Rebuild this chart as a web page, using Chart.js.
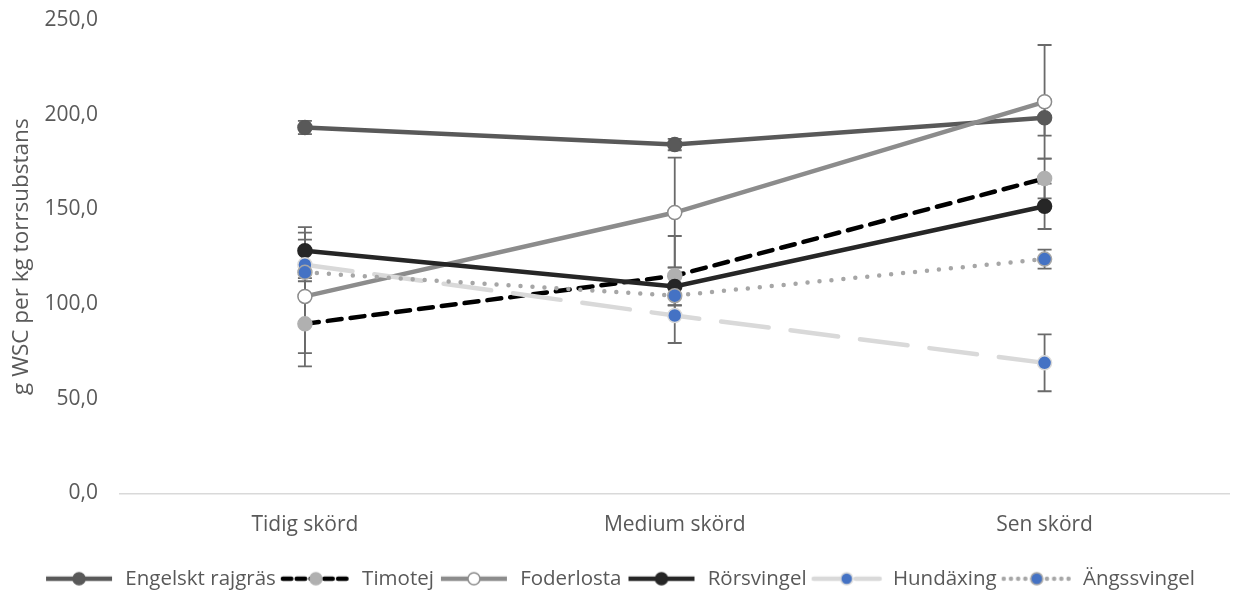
<!DOCTYPE html>
<html>
<head>
<meta charset="utf-8">
<script src="https://cdn.jsdelivr.net/npm/chart.js@4/dist/chart.umd.min.js"></script>
<style>
  html, body { margin: 0; padding: 0; background: #fff; }
  #wrap { width: 1238px; height: 591px; }
</style>
</head>
<body>
<div id="wrap"><canvas id="wsc"></canvas></div>
<script>
// harvest times
const categories = ['Tidig skörd', 'Medium skörd', 'Sen skörd'];

// g WSC per kg dry matter
const engelskt = [193.2, 184.2, 198.4];
const timotej = [89.5, 114.9, 166.3];
const foderlosta = [104.0, 148.3, 206.8];
const rorsvingel = [128.1, 109.2, 151.6];
const hundaxing = [120.7, 93.9, 68.9];
const angssvingel = [116.7, 104.4, 123.7];

// +/- error for each point
const errEngelskt = [3.5, 3, 9.5];
const errTimotej = [22.5, 21, 10.5];
const errFoderlosta = [30, 29, 30];
const errRorsvingel = [12.5, 10, 12];
const errHundaxing = [17, 14.5, 15];
const errAngssvingel = [3, 5, 5];

const yTicks = [0, 50, 100, 150, 200, 250];

const FONT = "'Open Sans', sans-serif";
const TXT = '#595959';

function series(label, data, err, line, dash, cap, markBg, markBorder, idx) {
  return {
    label: label,
    data: data,
    err: err,
    borderColor: line,
    borderWidth: 4.5,
    borderDash: dash,
    borderCapStyle: cap,
    pointRadius: 7,
    pointHoverRadius: 7,
    pointBackgroundColor: markBg,
    pointBorderColor: markBorder,
    pointBorderWidth: 1.5,
    tension: 0,
    fill: false,
    order: 6 - idx
  };
}

const datasets = [
  series('Engelskt rajgräs', engelskt, errEngelskt, '#595959', [], 'butt', '#595959', '#595959', 0),
  series('Timotej', timotej, errTimotej, '#000000', [14, 9], 'round', '#b0b0b0', '#b0b0b0', 1),
  series('Foderlosta', foderlosta, errFoderlosta, '#8c8c8c', [], 'butt', '#ffffff', '#8c8c8c', 2),
  series('Rörsvingel', rorsvingel, errRorsvingel, '#262626', [], 'butt', '#262626', '#262626', 3),
  series('Hundäxing', hundaxing, errHundaxing, '#d9d9d9', [48, 22], 'round', '#4472c4', '#d9d9d9', 4),
  series('Ängssvingel', angssvingel, errAngssvingel, '#a6a6a6', [0, 12], 'round', '#4472c4', '#a6a6a6', 5)
];

// legend swatch: line sample with the marker in the middle
function swatch(ds) {
  const c = document.createElement('canvas');
  c.width = 72; c.height = 20;
  const g = c.getContext('2d');
  g.strokeStyle = ds.borderColor;
  g.lineWidth = 4.5;
  g.lineCap = ds.borderCapStyle;
  g.setLineDash(ds.borderDash.map(d => d * 0.6));
  g.beginPath();
  g.moveTo(3, 10); g.lineTo(69, 10);
  g.stroke();
  g.setLineDash([]);
  g.beginPath();
  g.arc(36, 10, 6, 0, Math.PI * 2);
  g.fillStyle = ds.pointBackgroundColor;
  g.fill();
  g.lineWidth = 1.5;
  g.strokeStyle = ds.pointBorderColor;
  g.stroke();
  return c;
}

const errorBars = {
  id: 'errorBars',
  beforeDatasetsDraw(chart) {
    const ctx = chart.ctx;
    const y = chart.scales.y;
    ctx.save();
    ctx.strokeStyle = '#6a6a6a';
    ctx.lineWidth = 1.8;
    chart.data.datasets.forEach((ds, i) => {
      const meta = chart.getDatasetMeta(i);
      meta.data.forEach((pt, j) => {
        const e = ds.err[j];
        const top = y.getPixelForValue(ds.data[j] + e);
        const bot = y.getPixelForValue(ds.data[j] - e);
        ctx.beginPath();
        ctx.moveTo(pt.x, top); ctx.lineTo(pt.x, bot);
        ctx.moveTo(pt.x - 7, top); ctx.lineTo(pt.x + 7, top);
        ctx.moveTo(pt.x - 7, bot); ctx.lineTo(pt.x + 7, bot);
        ctx.stroke();
      });
    });
    ctx.restore();
  }
};

new Chart(document.getElementById('wsc'), {
  type: 'line',
  data: { labels: categories, datasets: datasets },
  plugins: [errorBars],
  options: {
    responsive: true,
    maintainAspectRatio: false,
    animation: false,
    layout: { padding: { left: 4, right: 4, top: 20, bottom: -8 } },
    plugins: {
      tooltip: { enabled: false },
      legend: {
        position: 'bottom',
        labels: {
          usePointStyle: true,
          pointStyleWidth: 72,
          boxHeight: 20,
          padding: 4,
          color: TXT,
          font: { family: FONT, size: 20.5 },
          generateLabels(chart) {
            return chart.data.datasets.map((ds, i) => ({
              text: ds.label,
              pointStyle: swatch(ds),
              fillStyle: ds.borderColor,
              strokeStyle: ds.borderColor,
              lineWidth: 0,
              fontColor: TXT,
              datasetIndex: i,
              hidden: false
            }));
          }
        }
      }
    },
    scales: {
      x: {
        offset: true,
        grid: { display: false, drawTicks: false },
        border: { display: true, color: '#d9d9d9', width: 1.5 },
        ticks: { color: TXT, font: { family: FONT, size: 21 }, padding: 19 },
        afterFit(axis) { axis.height += 8; axis.paddingLeft = 0; axis.paddingRight = 0; }
      },
      y: {
        min: 0,
        max: 250,
        afterBuildTicks(axis) { axis.ticks = yTicks.map(v => ({ value: v })); },
        afterFit(axis) { axis.width = 116; axis.paddingTop = 0; },
        grid: { display: false, drawTicks: false },
        border: { display: false },
        ticks: {
          color: TXT,
          font: { family: FONT, size: 21 },
          padding: 22,
          callback: v => v.toFixed(1).replace('.', ',')
        },
        title: {
          display: true,
          text: 'g WSC per kg torrsubstans',
          color: TXT,
          font: { family: FONT, size: 22.5 },
          padding: { top: 4, bottom: 8 }
        }
      }
    }
  }
});
</script>
</body>
</html>
